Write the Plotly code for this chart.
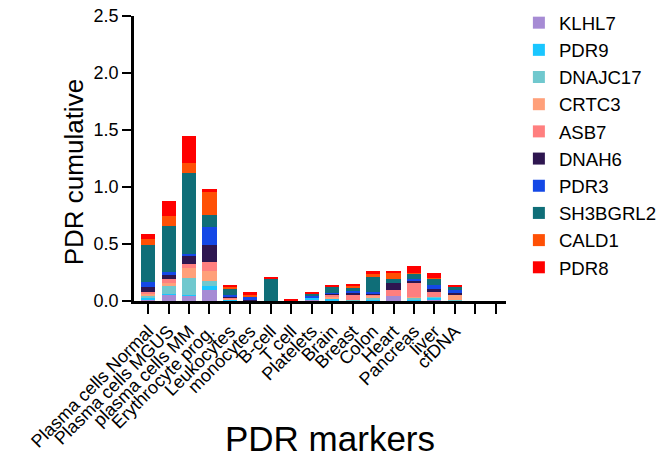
import plotly.graph_objects as go

# Tissue / sample categories (two trailing empty slots on the axis)
categories = ["Plasma cells Normal", "Plasma cells MGUS", "plasma cells MM",
              "Erythrocyte prog.", "Leukocytes", "monocytes", "B-cell", "T cell",
              "Platelets", "Brain", "Breast", "Colon", "Heart", "Pancreas",
              "liver", "cfDNA"]
empty_slots = ["", ""]

# PDR per marker, one value per category (stack order bottom -> top)
KLHL7    = [0.015, 0.058, 0.050, 0.096, 0.003, 0.003, 0.002, 0.000, 0.010, 0.006, 0.003, 0.006, 0.044, 0.008, 0.009, 0.000]
PDR9     = [0.015, 0.002, 0.003, 0.035, 0.006, 0.002, 0.000, 0.000, 0.020, 0.012, 0.003, 0.009, 0.000, 0.004, 0.018, 0.006]
DNAJC17  = [0.015, 0.072, 0.146, 0.047, 0.004, 0.000, 0.000, 0.000, 0.000, 0.008, 0.003, 0.008, 0.000, 0.015, 0.008, 0.006]
CRTC3    = [0.023, 0.026, 0.088, 0.088, 0.010, 0.000, 0.000, 0.000, 0.000, 0.012, 0.000, 0.021, 0.000, 0.005, 0.000, 0.046]
ASB7     = [0.015, 0.035, 0.035, 0.073, 0.012, 0.000, 0.000, 0.000, 0.000, 0.020, 0.044, 0.009, 0.052, 0.134, 0.044, 0.000]
DNAH6    = [0.043, 0.035, 0.073, 0.151, 0.005, 0.003, 0.000, 0.000, 0.000, 0.006, 0.020, 0.008, 0.062, 0.006, 0.026, 0.009]
PDR3     = [0.044, 0.023, 0.020, 0.158, 0.015, 0.027, 0.000, 0.000, 0.018, 0.006, 0.018, 0.021, 0.000, 0.021, 0.035, 0.029]
SH3BGRL2 = [0.320, 0.406, 0.707, 0.105, 0.050, 0.000, 0.190, 0.000, 0.017, 0.053, 0.027, 0.128, 0.035, 0.046, 0.053, 0.027]
CALD1    = [0.053, 0.087, 0.087, 0.201, 0.018, 0.018, 0.000, 0.000, 0.000, 0.000, 0.014, 0.026, 0.061, 0.008, 0.008, 0.004]
PDR8     = [0.044, 0.132, 0.237, 0.027, 0.017, 0.026, 0.018, 0.018, 0.010, 0.017, 0.018, 0.027, 0.009, 0.059, 0.044, 0.008]

series = [
    ("KLHL7", KLHL7, "#A68BD4"),
    ("PDR9", PDR9, "#1AC6FF"),
    ("DNAJC17", DNAJC17, "#70C8CE"),
    ("CRTC3", CRTC3, "#FFA07A"),
    ("ASB7", ASB7, "#FF7F7F"),
    ("DNAH6", DNAH6, "#2E1650"),
    ("PDR3", PDR3, "#1448E6"),
    ("SH3BGRL2", SH3BGRL2, "#0F6E78"),
    ("CALD1", CALD1, "#FF5005"),
    ("PDR8", PDR8, "#FF0000"),
]

FONT = "Liberation Sans, Arial, sans-serif"
x_pos = list(range(len(categories)))
tick_labels = categories + empty_slots

fig = go.Figure()
for name, vals, color in series:
    fig.add_trace(go.Bar(
        x=x_pos, y=vals, name=name, legendgroup=name,
        marker=dict(color=color, line=dict(width=0)),
        width=0.69,
    ))

fig.update_layout(
    width=661, height=453,
    barmode="stack",
    plot_bgcolor="white", paper_bgcolor="white",
    margin=dict(l=134, r=155, t=15.5, b=152, autoexpand=False),
    font=dict(family=FONT, size=18, color="black"),
    showlegend=True,
    legend=dict(
        xref="container", yref="container",
        x=0.785, y=0.991, xanchor="left", yanchor="top",
        traceorder="grouped", tracegroupgap=0,
        maxheight=440,
        font=dict(family=FONT, size=18.6, color="black"),
        bgcolor="rgba(0,0,0,0)",
    ),
    xaxis=dict(
        range=[-0.69, 17.5], automargin=False,
        tickmode="array", tickvals=list(range(len(tick_labels))), ticktext=tick_labels,
        tickangle=-45, ticks="outside", ticklen=10, tickwidth=2, tickcolor="black",
        showline=True, linecolor="black", linewidth=2.5,
        showgrid=False, zeroline=False,
        tickfont=dict(family=FONT, size=18, color="black"),
    ),
    yaxis=dict(
        range=[0, 2.5], automargin=False,
        tickvals=[0, 0.5, 1.0, 1.5, 2.0, 2.5], tickformat=".1f",
        ticks="outside", ticklen=9, tickwidth=2, tickcolor="black",
        showline=True, linecolor="black", linewidth=2.5,
        showgrid=False, zeroline=False,
        tickfont=dict(family=FONT, size=18, color="black"),
    ),
    annotations=[
        dict(text="PDR cumulative", xref="paper", yref="paper",
             x=-0.161, y=0.452, xanchor="center", yanchor="middle",
             textangle=-90, showarrow=False,
             font=dict(family=FONT, size=26, color="black")),
        dict(text="PDR markers", xref="paper", yref="paper",
             x=0.527, y=-0.484, xanchor="center", yanchor="middle",
             showarrow=False,
             font=dict(family=FONT, size=35, color="black")),
    ],
)

fig.write_html("out.html")
